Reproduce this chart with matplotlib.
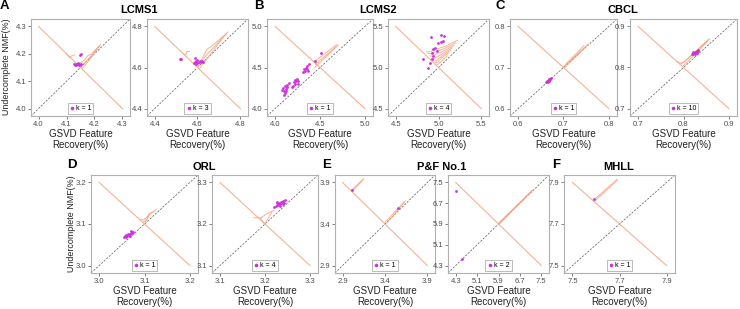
import matplotlib
matplotlib.use("Agg")
import matplotlib.pyplot as plt

plt.rcParams['font.family'] = ['Liberation Sans', 'DejaVu Sans']

# ---- data ----
# A: LCMS1
a1_lim = (4.0, 4.3); a1_ticks = [4.0, 4.1, 4.2, 4.3]; a1_k = 1
a1_x = [4.125, 4.13, 4.133, 4.137, 4.14, 4.143, 4.146, 4.15, 4.135, 4.142, 4.148, 4.152]
a1_y = [4.162, 4.16, 4.164, 4.161, 4.163, 4.16, 4.162, 4.164, 4.158, 4.166, 4.196, 4.198]
a1_br = [([4.10, 4.112, 4.118, 4.13], [4.20, 4.186, 4.192, 4.196]),
         ([4.14, 4.165, 4.175, 4.19, 4.222], [4.16, 4.178, 4.192, 4.20, 4.235]),
         ([4.148, 4.17, 4.185, 4.218], [4.152, 4.172, 4.19, 4.228]),
         ([4.155, 4.18, 4.213], [4.145, 4.175, 4.222])]

a2_lim = (4.4, 4.8); a2_ticks = [4.4, 4.6, 4.8]; a2_k = 3
a2_x = [4.52, 4.523, 4.585, 4.59, 4.595, 4.60, 4.605, 4.61, 4.615, 4.62, 4.59, 4.60, 4.625, 4.592]
a2_y = [4.64, 4.642, 4.62, 4.625, 4.63, 4.62, 4.628, 4.63, 4.625, 4.63, 4.645, 4.635, 4.628, 4.618]
a2_br = [([4.535, 4.548, 4.55, 4.562], [4.665, 4.665, 4.678, 4.678]),
         ([4.59, 4.62, 4.64, 4.66, 4.742], [4.61, 4.63, 4.66, 4.68, 4.773]),
         ([4.60, 4.645, 4.662, 4.735], [4.60, 4.69, 4.70, 4.765]),
         ([4.61, 4.728], [4.595, 4.757])]

# B: LCMS2
b1_lim = (4.0, 5.0); b1_ticks = [4.0, 4.5, 5.0]; b1_k = 1
b1_x = [4.10, 4.11, 4.10, 4.12, 4.13, 4.11, 4.13, 4.15, 4.09, 4.12, 4.08,
        4.20, 4.22, 4.23, 4.21, 4.22, 4.25, 4.19, 4.24, 4.26,
        4.31, 4.33, 4.35, 4.34, 4.36, 4.37, 4.32, 4.38,
        4.44, 4.51]
b1_y = [4.17, 4.19, 4.22, 4.24, 4.26, 4.27, 4.29, 4.31, 4.25, 4.21, 4.23,
        4.28, 4.30, 4.33, 4.32, 4.35, 4.30, 4.26, 4.36, 4.34,
        4.44, 4.46, 4.48, 4.50, 4.52, 4.46, 4.48, 4.54,
        4.58, 4.68]
b1_br = [([4.42, 4.45, 4.47, 4.69], [4.58, 4.58, 4.60, 4.78]),
         ([4.45, 4.48, 4.49, 4.70], [4.55, 4.56, 4.58, 4.77]),
         ([4.47, 4.50, 4.68], [4.53, 4.56, 4.75]),
         ([4.44, 4.46, 4.45, 4.47], [4.50, 4.52, 4.55, 4.56])]

b2_lim = (4.5, 5.5); b2_ticks = [4.5, 5.0, 5.5]; b2_k = 4
b2_x = [5.03, 5.06, 4.99, 5.03, 5.05, 4.96, 4.94, 4.92, 4.98, 4.82, 4.92, 4.90, 4.88, 4.94, 4.91]
b2_y = [5.40, 5.38, 5.30, 5.31, 5.32, 5.24, 5.22, 5.18, 5.20, 5.10, 5.10, 5.05, 4.99, 5.14, 5.37]
b2_br = [([4.86, 4.89, 5.08, 5.22], [5.19, 5.19, 5.26, 5.33]),
         ([4.88, 4.91, 5.07, 5.20], [5.17, 5.17, 5.23, 5.30]),
         ([4.90, 4.93, 5.06, 5.18], [5.14, 5.14, 5.20, 5.27]),
         ([4.92, 4.95, 5.05, 5.16], [5.11, 5.11, 5.17, 5.24]),
         ([4.94, 4.97, 5.04, 5.14], [5.08, 5.08, 5.14, 5.21]),
         ([4.96, 4.99, 5.03, 5.12], [5.06, 5.06, 5.11, 5.18]),
         ([4.98, 5.01, 5.10], [5.03, 5.05, 5.14])]

# C: CBCL
c1_lim = (0.6, 0.8); c1_ticks = [0.6, 0.7, 0.8]; c1_k = 1
c1_x = [0.662, 0.664, 0.665, 0.666, 0.667, 0.668, 0.669, 0.670, 0.671, 0.672, 0.666, 0.669]
c1_y = [0.664, 0.666, 0.668, 0.667, 0.670, 0.669, 0.671, 0.672, 0.673, 0.674, 0.665, 0.668]
c1_br = [([0.70, 0.755], [0.702, 0.757]),
         ([0.703, 0.75], [0.70, 0.751]),
         ([0.706, 0.745], [0.709, 0.753])]

c2_lim = (0.7, 0.9); c2_ticks = [0.7, 0.8, 0.9]; c2_k = 10
c2_x = [0.818, 0.82, 0.822, 0.824, 0.826, 0.828, 0.83, 0.832, 0.821, 0.825, 0.829, 0.833]
c2_y = [0.832, 0.834, 0.835, 0.836, 0.837, 0.838, 0.84, 0.841, 0.838, 0.833, 0.835, 0.842]
c2_br = [([0.785, 0.795, 0.80, 0.858], [0.815, 0.81, 0.812, 0.87]),
         ([0.795, 0.803, 0.855], [0.81, 0.815, 0.868]),
         ([0.80, 0.81, 0.852], [0.805, 0.815, 0.862])]

# D: ORL
d1_lim = (3.0, 3.2); d1_ticks = [3.0, 3.1, 3.2]; d1_k = 1
d1_x = [3.055, 3.058, 3.06, 3.062, 3.064, 3.066, 3.068, 3.07, 3.072, 3.075, 3.06, 3.067, 3.071]
d1_y = [3.069, 3.071, 3.073, 3.072, 3.075, 3.074, 3.077, 3.078, 3.079, 3.081, 3.068, 3.07, 3.082]
d1_br = [([3.09, 3.098, 3.125], [3.11, 3.11, 3.135]),
         ([3.098, 3.105, 3.11, 3.12], [3.105, 3.112, 3.125, 3.13]),
         ([3.10, 3.105, 3.11], [3.10, 3.11, 3.12])]

d2_lim = (3.1, 3.3); d2_ticks = [3.1, 3.2, 3.3]; d2_k = 4
d2_x = [3.220, 3.224, 3.228, 3.23, 3.232, 3.234, 3.236, 3.238, 3.24, 3.244, 3.227, 3.233, 3.239, 3.226, 3.242]
d2_y = [3.241, 3.244, 3.246, 3.248, 3.25, 3.247, 3.252, 3.254, 3.256, 3.258, 3.25, 3.243, 3.249, 3.253, 3.251]
d2_br = [([3.175, 3.19, 3.205, 3.22], [3.215, 3.215, 3.225, 3.233]),
         ([3.19, 3.195, 3.20, 3.205, 3.215], [3.215, 3.205, 3.20, 3.21, 3.228])]

# E: P&F No.1
e1_lim = (2.9, 3.9); e1_ticks = [2.9, 3.4, 3.9]; e1_k = 1
e1_x = [3.01, 3.55]
e1_y = [3.81, 3.59]
e1_br = [([3.0, 3.15], [3.80, 3.95]),
         ([3.01, 3.14], [3.79, 3.93]),
         ([3.40, 3.64], [3.42, 3.68]),
         ([3.42, 3.63], [3.41, 3.66])]

e2_lim = (4.3, 7.5); e2_ticks = [4.3, 5.1, 5.9, 6.7, 7.5]; e2_k = 2
e2_x = [4.31, 4.52]
e2_y = [7.18, 4.55]
e2_br = [([5.9, 7.2], [5.9, 7.22]),
         ([5.95, 7.17], [5.92, 7.2]),
         ([5.92, 7.15], [5.95, 7.19])]

# F: MHLL
f_lim = (7.5, 7.9); f_ticks = [7.5, 7.7, 7.9]; f_k = 1
f_x = [7.59]
f_y = [7.82]
f_br = [([7.59, 7.69], [7.815, 7.915]),
        ([7.595, 7.69], [7.81, 7.91])]

# ---- layout (pixels: left, top, right, bottom) ----
W, H = 740, 309
panels = [
    (a1_lim, a1_ticks, a1_k, a1_x, a1_y, a1_br, (31, 19, 130, 116)),
    (a2_lim, a2_ticks, a2_k, a2_x, a2_y, a2_br, (147, 19, 248, 116)),
    (b1_lim, b1_ticks, b1_k, b1_x, b1_y, b1_br, (267, 19, 373, 116)),
    (b2_lim, b2_ticks, b2_k, b2_x, b2_y, b2_br, (388, 19, 489, 116)),
    (c1_lim, c1_ticks, c1_k, c1_x, c1_y, c1_br, (510, 19, 617, 116)),
    (c2_lim, c2_ticks, c2_k, c2_x, c2_y, c2_br, (630, 19, 737, 116)),
    (d1_lim, d1_ticks, d1_k, d1_x, d1_y, d1_br, (91, 175, 198, 273)),
    (d2_lim, d2_ticks, d2_k, d2_x, d2_y, d2_br, (212, 175, 318, 273)),
    (e1_lim, e1_ticks, e1_k, e1_x, e1_y, e1_br, (335, 175, 435, 273)),
    (e2_lim, e2_ticks, e2_k, e2_x, e2_y, e2_br, (448, 175, 549, 273)),
    (f_lim, f_ticks, f_k, f_x, f_y, f_br, (564, 175, 675, 273)),
]

orange = '#F4A582'
magenta = '#CC33DD'
frame = '#B0B0B0'

fig = plt.figure(figsize=(W / 100, H / 100), dpi=100)

for lim, ticks, k, px, py, br, (l, t, r, b) in panels:
    ax = fig.add_axes([l / W, 1 - b / H, (r - l) / W, (b - t) / H])
    lo, hi = lim
    pad = 0.09 * (hi - lo)
    ax.set_xlim(lo - pad, hi + pad)
    ax.set_ylim(lo - pad, hi + pad)
    ax.axline((lo, lo), (hi, hi), color='#555555', lw=0.5, ls=(0, (3, 2)), zorder=1)
    ax.plot([lo, hi], [hi, lo], color=orange, lw=0.8, alpha=0.85, zorder=2)
    for bx, by in br:
        ax.plot(bx, by, color=orange, lw=0.7, alpha=0.85, zorder=2)
    ax.scatter(px, py, s=4, color=magenta, lw=0, zorder=3, label=f'k = {k}')
    ax.set_xticks(ticks)
    ax.set_yticks(ticks)
    ax.set_xticklabels([f'{v:.1f}' for v in ticks])
    ax.set_yticklabels([f'{v:.1f}' for v in ticks])
    ax.tick_params(labelsize=5.5, colors='#4D4D4D', length=2, width=0.5, pad=1.5)
    for sp in ax.spines.values():
        sp.set_color(frame)
        sp.set_linewidth(0.8)
    ax.set_xlabel('GSVD Feature\nRecovery(%)', fontsize=7, color='#222222', labelpad=1, linespacing=1.15)
    leg = ax.legend(loc='lower center', fontsize=5, handlelength=0.6, handletextpad=0.3,
                    borderpad=0.3, markerscale=1.3, fancybox=False, framealpha=1,
                    borderaxespad=0.3)
    leg.get_frame().set_edgecolor(frame)
    leg.get_frame().set_linewidth(0.6)

# titles and panel letters
titles = [('LCMS1', 139, 10), ('LCMS2', 378, 10), ('CBCL', 623, 10),
          ('ORL', 204, 167), ('P&F No.1', 442, 167), ('MHLL', 619, 167)]
for txt, x, y in titles:
    fig.text(x / W, 1 - y / H, txt, fontsize=8, fontweight='bold', ha='center', va='center')

letters = [('A', 4, 6), ('B', 259, 6), ('C', 500, 6), ('D', 72, 165), ('E', 327, 165), ('F', 556, 165)]
for txt, x, y in letters:
    fig.text(x / W, 1 - y / H, txt, fontsize=9.5, fontweight='bold', ha='center', va='center')

for xpos, yc in ((7, 67), (72, 224)):
    fig.text(xpos / W, 1 - yc / H, 'Undercomplete NMF(%)', fontsize=6.4, color='#222222',
             rotation=90, ha='center', va='center')

fig.savefig('out.png', dpi=100)
